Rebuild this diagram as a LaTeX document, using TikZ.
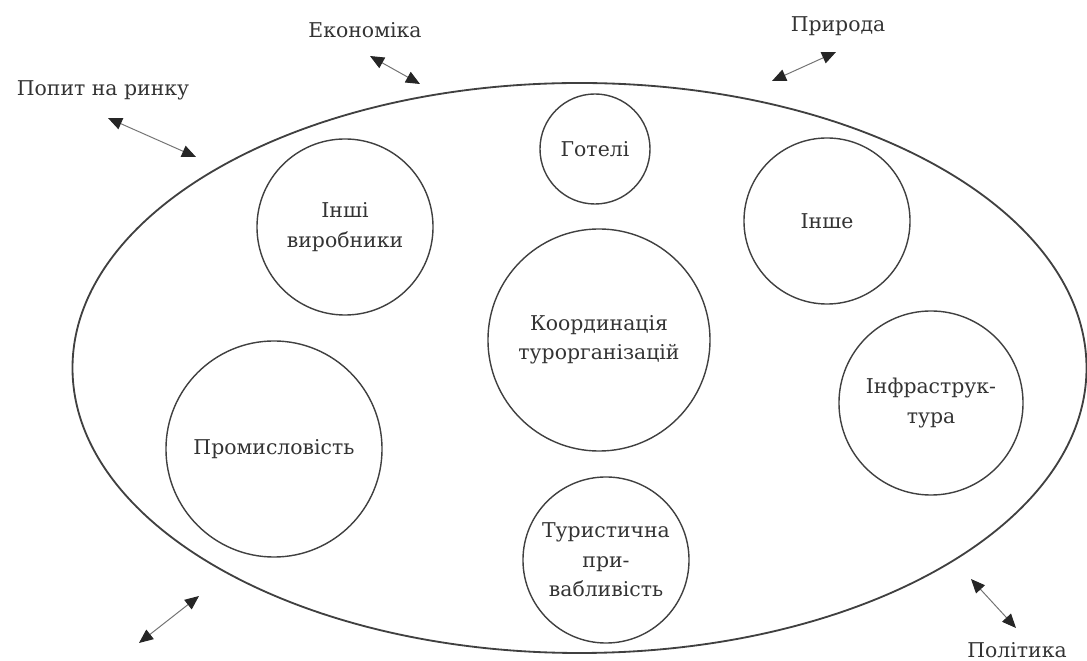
\documentclass[tikz,border=0pt]{standalone}
\usepackage{fontspec}
\setmainfont{DejaVu Serif}
\usetikzlibrary{arrows.meta}
\tikzset{every node/.style={font=\fontsize{14.5}{21}\selectfont,text=black!80},
  part/.style={circle,draw=black!75,line width=1pt,inner sep=0pt,align=center},
  link/.style={{Triangle[length=10pt,width=8.5pt,color=black!85]}-{Triangle[length=10pt,width=8.5pt,color=black!85]},draw=black!55,line width=0.7pt}}

\begin{document}
\begin{tikzpicture}[x=0.025cm,y=-0.025cm]
              \useasboundingbox (0,0) rectangle (1087,661);
              \draw[line width=1.3pt,black!75] (579.5,368) ellipse [x radius=507,y radius=285];

              \node[part,minimum size=2.75cm] (hotels) at (595,149) {Готелі};
              \node[part,minimum size=4.4cm] (producers) at (345,227) {Інші\\виробники};
              \node[part,minimum size=4.15cm] (other) at (827,221) {Інше};
              \node[part,minimum size=5.55cm] (coord) at (599,340) {Координація\\турорганізацій};
              \node[part,minimum size=5.4cm] (industry) at (274,449) {Промисловість};
              \node[part,minimum size=4.6cm] (infra) at (931,403) {Інфраструк-\\тура};
              \node[part,minimum size=4.15cm] (attract) at (606,560) {Туристична\\при-\\вабливість};

              \node (market) at (103,90) {Попит на ринку};
              \node (economy) at (365,30) {Економіка};
              \node (nature) at (838,26) {Природа};
              \node (politics) at (1017,650) {Політика};

              \coordinate (market1) at (108,118);
              \coordinate (market2) at (196,157);
              \coordinate (economy1) at (370,56);
              \coordinate (economy2) at (420,84);
              \coordinate (nature1) at (836,52);
              \coordinate (nature2) at (772,81);
              \coordinate (low1) at (199,596);
              \coordinate (low2) at (139,643);
              \coordinate (politics1) at (971,579);
              \coordinate (politics2) at (1016,628);

              \draw[link] (market1) -- (market2);
              \draw[link] (economy1) -- (economy2);
              \draw[link] (nature1) -- (nature2);
              \draw[link] (low1) -- (low2);
              \draw[link] (politics1) -- (politics2);
\end{tikzpicture}
\end{document}
